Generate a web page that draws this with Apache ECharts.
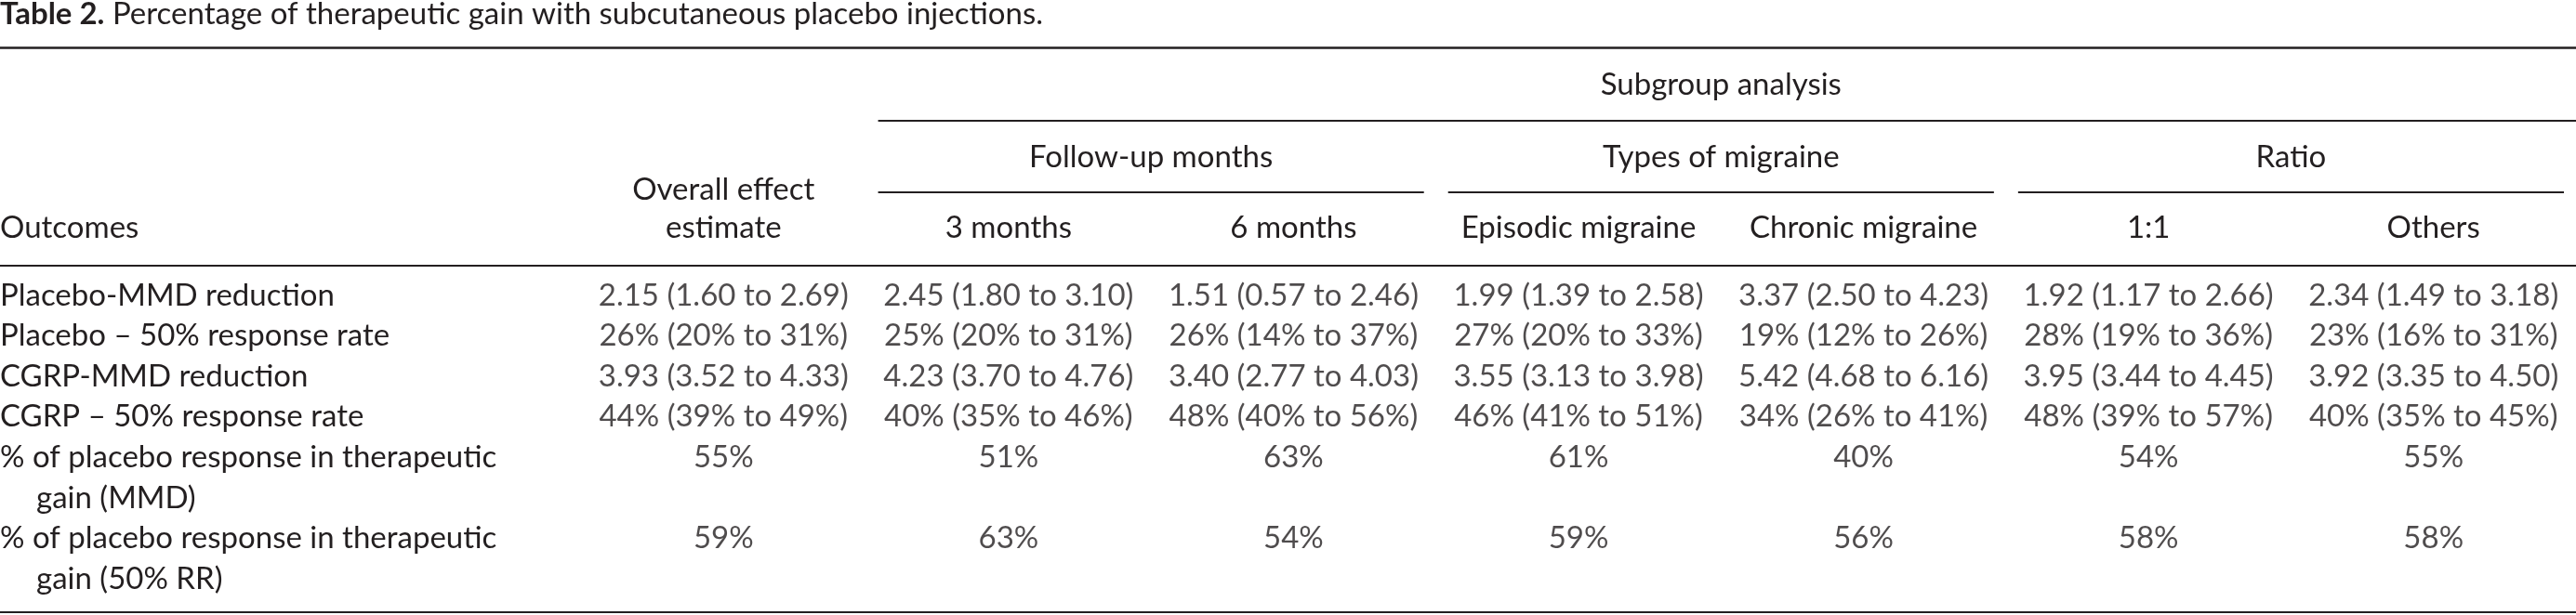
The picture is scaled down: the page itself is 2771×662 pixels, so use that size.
<!DOCTYPE html>
<html>
<head>
<meta charset="utf-8">
<script src="https://cdn.jsdelivr.net/npm/echarts@6/dist/echarts.min.js"></script>
<style>
  html, body { margin: 0; padding: 0; background: #fff; }
  #table-chart { width: 2771px; height: 662px; }
</style>
</head>
<body>
<div id="table-chart"></div>
<script>
// table content
var title = 'Percentage of therapeutic gain with subcutaneous placebo injections.';
var outcomes = [
    'Placebo-MMD reduction',
    'Placebo – 50% response rate',
    'CGRP-MMD reduction',
    'CGRP – 50% response rate',
    '% of placebo response in therapeutic\ngain (MMD)',
    '% of placebo response in therapeutic\ngain (50% RR)'
];
var columns = ['Overall effect\nestimate', '3 months', '6 months', 'Episodic migraine', 'Chronic migraine', '1:1', 'Others'];
var groupNames = ['Follow-up months', 'Types of migraine', 'Ratio'];
var groupCols = [[1, 2], [3, 4], [5, 6]];

var overall  = ['2.15 (1.60 to 2.69)', '26% (20% to 31%)', '3.93 (3.52 to 4.33)', '44% (39% to 49%)', '55%', '59%'];
var months3  = ['2.45 (1.80 to 3.10)', '25% (20% to 31%)', '4.23 (3.70 to 4.76)', '40% (35% to 46%)', '51%', '63%'];
var months6  = ['1.51 (0.57 to 2.46)', '26% (14% to 37%)', '3.40 (2.77 to 4.03)', '48% (40% to 56%)', '63%', '54%'];
var episodic = ['1.99 (1.39 to 2.58)', '27% (20% to 33%)', '3.55 (3.13 to 3.98)', '46% (41% to 51%)', '61%', '59%'];
var chronic  = ['3.37 (2.50 to 4.23)', '19% (12% to 26%)', '5.42 (4.68 to 6.16)', '34% (26% to 41%)', '40%', '56%'];
var ratio11  = ['1.92 (1.17 to 2.66)', '28% (19% to 36%)', '3.95 (3.44 to 4.45)', '48% (39% to 57%)', '54%', '58%'];
var others   = ['2.34 (1.49 to 3.18)', '23% (16% to 31%)', '3.92 (3.35 to 4.50)', '40% (35% to 45%)', '55%', '58%'];
var cells = [overall, months3, months6, episodic, chronic, ratio11, others];

// layout
var W = 2771;
var FONT = 'Lato';
var SIZE = 33;
var INK = '#231f20';
var MID = 12.5;        // baseline -> middle of text box
var rowStep = 43.6;
var row0Base = 330.5;

// each outcome starts on the line after the previous one's last line
var lineIdx = [];
var n = 0;
outcomes.forEach(function (o) { lineIdx.push(n); n += o.split('\n').length; });

var chart = echarts.init(document.getElementById('table-chart'));

var cellData = [];
cells.forEach(function (col, c) {
    col.forEach(function (txt, r) {
        cellData.push({ value: [columns[c], lineIdx[r]], name: txt });
    });
});

chart.setOption({
    animation: false,
    backgroundColor: '#fff',
    grid: { left: 625, width: 2157, top: row0Base - MID - rowStep / 2, height: rowStep * n },
    xAxis: { type: 'category', data: columns, show: false },
    yAxis: { type: 'value', inverse: true, min: -0.5, max: n - 0.5, show: false },
    series: [{
        type: 'scatter',
        symbolSize: 0,
        silent: true,
        data: cellData,
        label: {
            show: true,
            position: 'inside',
            formatter: function (p) { return p.name; },
            fontFamily: FONT,
            fontSize: SIZE,
            color: INK
        }
    }]
});

function txt(s, x, baseline, align, extra) {
    var st = {
        text: s, x: x, y: baseline - MID,
        font: SIZE + 'px ' + FONT, fill: INK,
        align: align, textAlign: align,
        verticalAlign: 'middle', textVerticalAlign: 'middle'
    };
    if (extra) Object.keys(extra).forEach(function (k) { st[k] = extra[k]; });
    return { type: 'text', silent: true, style: st };
}
function rule(x1, x2, y, w) {
    return { type: 'rect', silent: true, shape: { x: x1, y: y - w / 2, width: x2 - x1, height: w }, style: { fill: INK } };
}

var colX = columns.map(function (c) { return chart.convertToPixel({ xAxisIndex: 0 }, c); });
var half = (colX[1] - colX[0]) / 2;
var inset = 13;

var g = [];
// title
g.push(txt('{b|Table 2.} ' + title, 0, 27.5, 'left', {
    rich: { b: { fontWeight: 'bold', fontFamily: FONT, fontSize: SIZE, fill: INK } }
}));
g.push(rule(0, W, 51.5, 2.4));
// spanning header
g.push(txt('Subgroup analysis', (colX[1] + colX[6]) / 2, 103.5, 'center'));
g.push(rule(colX[1] - half + inset, W, 130, 2));
groupNames.forEach(function (name, i) {
    var a = colX[groupCols[i][0]], b = colX[groupCols[i][1]];
    g.push(txt(name, (a + b) / 2, 181.5, 'center'));
    g.push(rule(a - half + inset, Math.min(W, b + half - inset), 207, 2));
});
// column headers, bottom aligned
g.push(txt('Outcomes', 0, 258, 'left'));
columns.forEach(function (c, i) {
    var lines = c.split('\n');
    lines.forEach(function (l, j) {
        g.push(txt(l, colX[i], 258 - (lines.length - 1 - j) * 41.5, 'center'));
    });
});
g.push(rule(0, W, 286, 2));
// row labels
outcomes.forEach(function (o, r) {
    o.split('\n').forEach(function (l, j) {
        var y = chart.convertToPixel({ yAxisIndex: 0 }, lineIdx[r] + j) + MID;
        g.push(txt(l, j ? 39 : 0, y, 'left'));
    });
});
g.push(rule(0, W, 659, 2));

chart.setOption({ graphic: g });

window.onresize = chart.resize;
</script>
</body>
</html>
